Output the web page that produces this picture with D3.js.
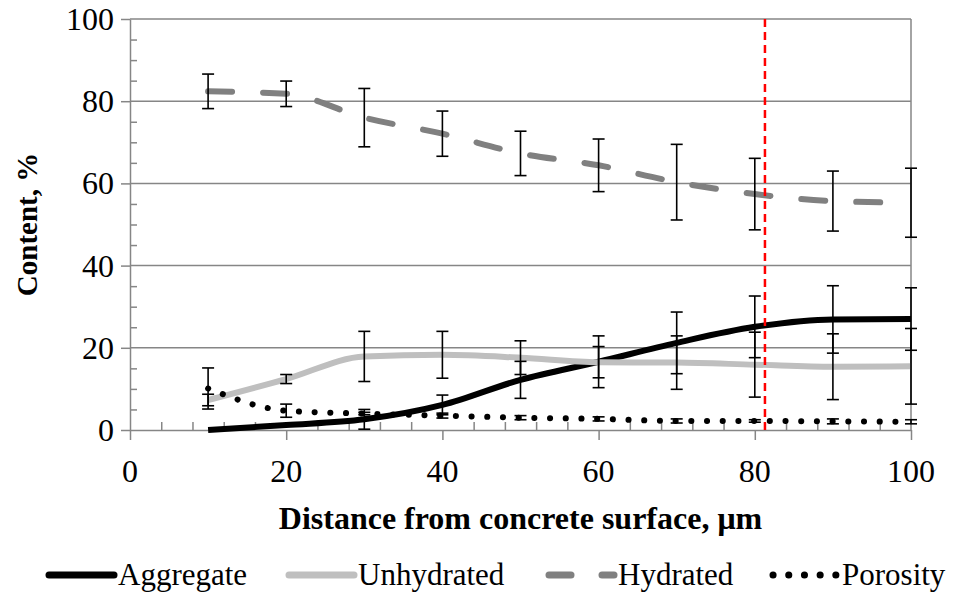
<!DOCTYPE html>
<html>
<head>
<meta charset="utf-8">
<script src="https://cdn.jsdelivr.net/npm/d3@7"></script>
</head>
<body style="margin:0">
<script>
// values
var distance = [10, 20, 30, 40, 50, 60, 70, 80, 90, 100];
var aggregate = [0, 1.2, 2.6, 6.1, 12.2, 16.6, 21.2, 25.1, 26.9, 27.0];
var aggregateErr = [0, 0, 2.4, 2.4, 4.5, 6.3, 7.5, 7.5, 8.2, 7.6];
var unhydrated = [7.3, 12.4, 17.9, 18.3, 17.6, 16.5, 16.4, 15.9, 15.4, 15.5];
var unhydratedErr = [1.4, 1.1, 6.1, 5.7, 4.1, 3.8, 6.5, 7.9, 8.0, 9.2];
var hydrated = [82.4, 81.8, 76.0, 72.1, 67.3, 64.4, 60.3, 57.4, 55.7, 55.3];
var hydratedErr = [4.2, 3.1, 7.1, 5.5, 5.4, 6.4, 9.2, 8.7, 7.3, 8.4];
var porosity = [10.1, 4.7, 4.0, 3.5, 3.0, 2.7, 2.2, 2.2, 2.1, 2.0];
var porosityErr = [5.0, 1.6, 0.3, 0.6, 0.5, 0.5, 0.5, 0.3, 0.6, 0.5];
var seriesNames = ["Aggregate", "Unhydrated", "Hydrated", "Porosity"];
var xTicks = [0, 20, 40, 60, 80, 100];
var yTicks = [0, 20, 40, 60, 80, 100];
var markerX = 81.3;

var fontName = "Liberation Serif";

var svgWidth = 953;
var svgHeight = 595;
var margin = { top: 19, right: 42, bottom: 165, left: 130 };
var width = svgWidth - margin.left - margin.right;
var height = svgHeight - margin.top - margin.bottom;

var svg = d3.select("body")
  .append("svg")
  .attr("width", svgWidth)
  .attr("height", svgHeight);

var chartGroup = svg.append("g")
  .attr("transform", `translate(${margin.left}, ${margin.top})`);

var xScale = d3.scaleLinear().domain([0, 100]).range([0, width]);
var yScale = d3.scaleLinear().domain([0, 100]).range([height, 0]);

var axisColor = "#868686";

// horizontal gridlines
chartGroup.append("g")
  .selectAll("line")
  .data(yTicks.filter(d => d > 0))
  .enter()
  .append("line")
  .attr("x1", 0)
  .attr("x2", width)
  .attr("y1", d => yScale(d))
  .attr("y2", d => yScale(d))
  .attr("stroke", axisColor)
  .attr("stroke-width", 1.5);

// right border
chartGroup.append("line")
  .attr("x1", width).attr("x2", width)
  .attr("y1", 0).attr("y2", height)
  .attr("stroke", axisColor)
  .attr("stroke-width", 1.5);

// minor ticks point inwards
var xMinor = d3.range(0, 101, 4).filter(d => d % 20 !== 0);
var yMinor = d3.range(0, 101, 5).filter(d => d % 20 !== 0);

chartGroup.append("g")
  .attr("transform", `translate(0, ${height})`)
  .call(d3.axisTop(xScale).tickValues(xMinor).tickSize(8).tickFormat(""))
  .call(g => g.select(".domain").remove());

chartGroup.append("g")
  .call(d3.axisRight(yScale).tickValues(yMinor).tickSize(7).tickFormat(""))
  .call(g => g.select(".domain").remove());

// major ticks: lines from the axis generator, labels added as plain text
var xAxisG = chartGroup.append("g")
  .attr("transform", `translate(0, ${height})`)
  .call(d3.axisBottom(xScale).tickValues(xTicks).tickSizeInner(10).tickSizeOuter(0).tickFormat(""));

var yAxisG = chartGroup.append("g")
  .call(d3.axisLeft(yScale).tickValues(yTicks).tickSizeInner(9).tickSizeOuter(0).tickFormat(""));

chartGroup.selectAll(".domain, .tick line")
  .attr("stroke", axisColor)
  .attr("stroke-width", 1.5);

svg.selectAll(".xlabel")
  .data(xTicks)
  .enter()
  .append("text")
  .attr("class", "xlabel")
  .attr("x", d => margin.left + xScale(d))
  .attr("y", margin.top + height + 52)
  .attr("text-anchor", "middle")
  .attr("font-size", "32px")
  .style("font-family", `'${fontName}'`)
  .text(d => d);

svg.selectAll(".ylabel")
  .data(yTicks)
  .enter()
  .append("text")
  .attr("class", "ylabel")
  .attr("x", margin.left - 16)
  .attr("y", d => margin.top + yScale(d) + 11)
  .attr("text-anchor", "end")
  .attr("font-size", "32px")
  .style("font-family", `'${fontName}'`)
  .text(d => d);

// series lines
var series = [
  { name: seriesNames[0], values: aggregate, err: aggregateErr, color: "#000000", dash: null, cap: "butt" },
  { name: seriesNames[1], values: unhydrated, err: unhydratedErr, color: "#bfbfbf", dash: null, cap: "butt" },
  { name: seriesNames[2], values: hydrated, err: hydratedErr, color: "#808080", dash: "24,31", cap: "round" },
  { name: seriesNames[3], values: porosity, err: porosityErr, color: "#000000", dash: "0.1,15.6", cap: "round" }
];

var line = d3.line()
  .x((d, i) => xScale(distance[i]))
  .y(d => yScale(d))
  .curve(d3.curveMonotoneX);

series.forEach(function(s) {
  chartGroup.append("path")
    .datum(s.values)
    .attr("d", line)
    .attr("fill", "none")
    .attr("stroke", s.color)
    .attr("stroke-width", 6)
    .attr("stroke-linecap", s.cap)
    .attr("stroke-linejoin", "round")
    .attr("stroke-dasharray", s.dash);
});

// error bars
series.forEach(function(s) {
  var bars = chartGroup.append("g")
    .selectAll("g")
    .data(s.values.map((v, i) => ({ x: distance[i], y: v, e: s.err[i] })).filter(d => d.e > 0))
    .enter()
    .append("g")
    .attr("stroke", "#000")
    .attr("stroke-width", 1.6);

  bars.append("line")
    .attr("x1", d => xScale(d.x)).attr("x2", d => xScale(d.x))
    .attr("y1", d => yScale(d.y + d.e)).attr("y2", d => yScale(d.y - d.e));
  bars.append("line")
    .attr("x1", d => xScale(d.x) - 6).attr("x2", d => xScale(d.x) + 6)
    .attr("y1", d => yScale(d.y + d.e)).attr("y2", d => yScale(d.y + d.e));
  bars.append("line")
    .attr("x1", d => xScale(d.x) - 6).attr("x2", d => xScale(d.x) + 6)
    .attr("y1", d => yScale(d.y - d.e)).attr("y2", d => yScale(d.y - d.e));
});

// red marker line
chartGroup.append("line")
  .attr("x1", xScale(markerX)).attr("x2", xScale(markerX))
  .attr("y1", yScale(100)).attr("y2", yScale(0))
  .attr("stroke", "#ff0000")
  .attr("stroke-width", 2.5)
  .attr("stroke-dasharray", "8,5");

// axis titles
svg.append("text")
  .attr("x", margin.left + width / 2)
  .attr("y", 529)
  .attr("text-anchor", "middle")
  .attr("font-size", "32px")
  .attr("font-weight", "bold")
  .style("font-family", `'${fontName}'`)
  .text("Distance from concrete surface, \u03bcm");

svg.append("text")
  .attr("transform", `translate(37, ${margin.top + height / 2}) rotate(-90)`)
  .attr("text-anchor", "middle")
  .attr("font-size", "29px")
  .attr("font-weight", "bold")
  .style("font-family", `'${fontName}'`)
  .text("Content, %");

// legend
var legendX = [46, 286, 546, 770];
var legendY = 575;

series.forEach(function(s, i) {
  var x0 = legendX[i];
  var sample = svg.append("g")
    .attr("stroke", s.color)
    .attr("stroke-width", 7)
    .attr("stroke-linecap", "round");
  if (i === 2) {
    sample.append("line").attr("x1", x0 + 3).attr("x2", x0 + 25).attr("y1", legendY).attr("y2", legendY);
    sample.append("line").attr("x1", x0 + 56).attr("x2", x0 + 68).attr("y1", legendY).attr("y2", legendY);
  } else if (i === 3) {
    sample.append("line").attr("x1", x0 + 3).attr("x2", x0 + 66).attr("y1", legendY).attr("y2", legendY)
      .attr("stroke-dasharray", "0.1,15.6");
  } else {
    sample.append("line").attr("x1", x0 + 3).attr("x2", x0 + 68).attr("y1", legendY).attr("y2", legendY);
  }
});

svg.selectAll(".legend-label")
  .data(series)
  .enter()
  .append("text")
  .attr("class", "legend-label")
  .attr("x", (d, i) => legendX[i] + 72)
  .attr("y", legendY + 10)
  .attr("font-size", "31px")
  .style("font-family", `'${fontName}'`)
  .text(d => d.name);
</script>
</body>
</html>
